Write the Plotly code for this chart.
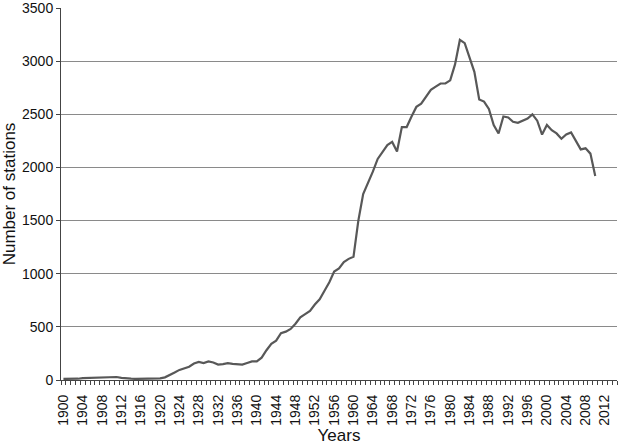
import plotly.graph_objects as go

years = list(range(1900, 2011))
stations = [
    10, 10, 10, 12, 18, 20, 20, 22, 28, 30,
    30, 28, 20, 14, 12, 10, 10, 10, 10, 10,
    15, 25, 45, 70, 95, 110, 125, 155, 170, 160,
    175, 165, 145, 150, 158, 152, 150, 145, 160, 175,
    175, 210, 280, 340, 370, 440, 455, 480, 530, 590,
    620, 650, 710, 760, 840, 920, 1020, 1050, 1110, 1140,
    1160, 1500, 1750, 1850, 1960, 2080, 2140, 2210, 2240, 2150,
    2380, 2380, 2480, 2570, 2600, 2660, 2730, 2760, 2790, 2790,
    2820, 2970, 3200, 3170, 3040, 2900, 2640, 2620, 2550, 2400,
    2320, 2480, 2470, 2430, 2420, 2440, 2460, 2500, 2440, 2310,
    2400, 2350, 2320, 2270, 2310, 2330, 2250, 2170, 2180, 2130,
    1920,
]
tick_years = list(range(1900, 2013, 4))
y_ticks = [0, 500, 1000, 1500, 2000, 2500, 3000, 3500]

fig = go.Figure()
fig.add_trace(go.Scatter(
    x=years, y=stations, mode="lines",
    line=dict(color="#585858", width=2.2),
    showlegend=False,
))

font = dict(family="Liberation Sans, Arial, sans-serif", size=14, color="#111")
fig.update_layout(
    width=618, height=448,
    margin=dict(l=61, r=1, t=8, b=68),
    paper_bgcolor="white", plot_bgcolor="white",
    font=font,
)
fig.update_xaxes(
    range=[1899.5, 2014.5], automargin=False,
    tickvals=tick_years, ticktext=[str(y) for y in tick_years],
    tickangle=-90, ticks="", showgrid=False, ticklabelstandoff=8,
    showline=True, linecolor="#444", linewidth=1,
    minor=dict(ticks="outside", tick0=1899.5, dtick=1, ticklen=4,
               tickcolor="#444", showgrid=False),
    title=dict(text="Years", standoff=4),
)
fig.update_yaxes(
    range=[0, 3500.5], tickvals=y_ticks, automargin=False,
    ticklabeloverflow="allow",
    showgrid=True, gridcolor="#8a8a8a", gridwidth=1,
    showline=True, linecolor="#444", linewidth=1,
    ticks="outside", ticklen=4, tickcolor="#444",
    zeroline=False,
    title=dict(text="Number of stations", standoff=4),
)

# the page body has an 8px default margin; drop it so the figure sits at 0,0
fig.write_html("out.html", config={"displayModeBar": False},
               post_script="document.body.style.margin='0px';")
